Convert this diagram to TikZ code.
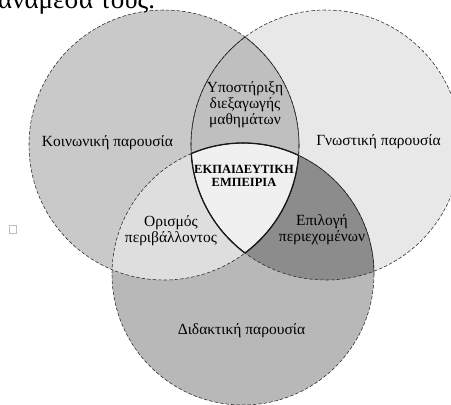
\documentclass[tikz,border=0pt]{standalone}
\usepackage{fontspec}
\setmainfont{Liberation Serif}

\begin{document}
\begin{tikzpicture}
[x=1pt,y=-1pt,
 rim/.style={draw=black!85,line width=0.55pt,dash pattern=on 3.5pt off 2pt},
 seam/.style={draw=black!85,line width=0.6pt},
 core/.style={draw=black!90,line width=1.3pt},
 lbl/.style={font=\fontsize{15.5}{16}\selectfont,align=center,inner sep=0pt},
 title/.style={font=\bfseries\fontsize{12.5}{13.5}\selectfont,align=center,inner sep=0pt}]
\clip (0,0) rectangle (451,405);

\coordinate (soc) at (164,145);
\coordinate (cog) at (326,145);
\coordinate (tea) at (243,274);

\fill[black!21] (soc) circle (135);
\fill[black!9] (cog) circle (135);
\fill[black!28] (tea) circle (131);
\begin{scope}
\clip (soc) circle (135);
\fill[black!25] (cog) circle (135);
\end{scope}
\begin{scope}
\clip (soc) circle (135);
\fill[black!13] (tea) circle (131);
\end{scope}
\begin{scope}
\clip (cog) circle (135);
\fill[black!45] (tea) circle (131);
\end{scope}
\begin{scope}
\clip (soc) circle (135);
\clip (cog) circle (135);
\fill[black!6] (tea) circle (131);
\end{scope}

\draw[rim] (soc) circle (135);
\draw[rim] (cog) circle (135);
\draw[rim] (tea) circle (131);
\begin{scope}
\clip (cog) circle (135);
\draw[seam] (soc) circle (135);
\draw[seam] (tea) circle (131);
\end{scope}
\begin{scope}
\clip (soc) circle (135);
\draw[seam] (cog) circle (135);
\end{scope}
\begin{scope}
\clip (cog) circle (135);
\clip (tea) circle (131);
\draw[core] (soc) circle (135);
\end{scope}
\begin{scope}
\clip (soc) circle (135);
\clip (tea) circle (131);
\draw[core] (cog) circle (135);
\end{scope}
\begin{scope}
\clip (soc) circle (135);
\clip (cog) circle (135);
\draw[core] (tea) circle (131);
\end{scope}

\node[anchor=base west,inner sep=0pt,font=\fontsize{27}{29}\selectfont] (text) at (-2,8) {ανάμεσά τους.};
\node[draw=black!25,line width=0.4pt,minimum width=7pt,minimum height=8pt,inner sep=0pt] (box) at (12.5,229) {};

\node[lbl] (social) at (107.5,143) {Κοινωνική παρουσία};
\node[lbl] (cognitive) at (378.5,142) {Γνωστική παρουσία};
\node[lbl] (teaching) at (241.5,331) {Διδακτική παρουσία};
\node[lbl] (support) at (245,105) {Υποστήριξη\\διεξαγωγής\\μαθημάτων};
\node[lbl] (climate) at (171,231) {Ορισμός\\περιβάλλοντος};
\node[lbl] (content) at (322,230) {Επιλογή\\περιεχομένων};
\node[title] (experience) at (244,176) {ΕΚΠΑΙΔΕΥΤΙΚΗ\\ΕΜΠΕΙΡΙΑ};
\end{tikzpicture}
\end{document}
